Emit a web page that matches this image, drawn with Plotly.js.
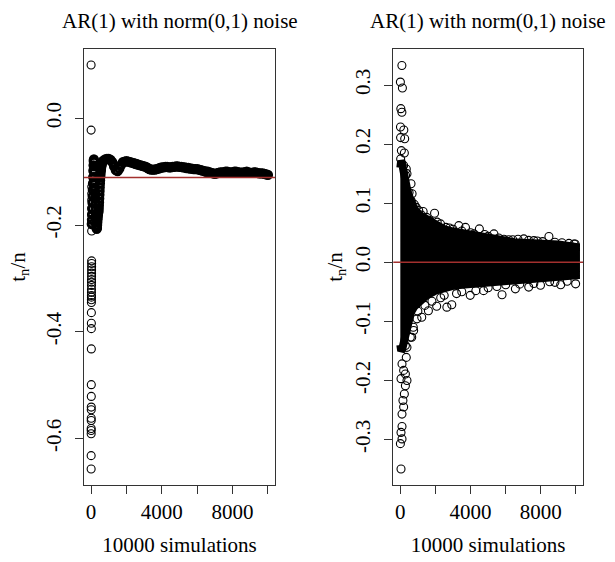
<!DOCTYPE html>
<html>
<head>
<meta charset="utf-8">
<script src="https://cdn.plot.ly/plotly-3.0.1.min.js"></script>
<style>html,body{margin:0;padding:0;background:#fff;}#chart{width:615px;height:562px;}</style>
</head>
<body>
<div id="chart"></div>
<script>
// ---------- Left panel: running mean t_n/n ----------
// isolated early values (first few dozen n)
const leftEarlyN = [1,2,3,4,5,6,7,8,9,10,11,12,13,14,15,16,17,18,19,20,21,22,23,24,25,26,27,28,29,30,31,32,33,34,35,36,37,38,39];
const leftEarlyV = [0.100,-0.022,-0.657,-0.632,-0.591,-0.585,-0.581,-0.566,-0.562,-0.546,-0.541,-0.521,-0.499,-0.432,-0.394,-0.384,-0.364,-0.345,-0.340,-0.335,-0.332,-0.326,-0.320,-0.313,-0.307,-0.302,-0.296,-0.290,-0.284,-0.278,-0.272,-0.267,-0.211,-0.194,-0.181,-0.168,-0.153,-0.141,-0.128];
// dense path afterwards
const leftPathN = [40,50,60,70,80,90,100,110,120,130,140,150,160,170,180,190,200,210,220,230,240,250,260,270,280,290,300,310,320,330,340,350,360,370,380,390,400,410,420,430,440,450,460,470,480,490,500,510,520,530,540,550,560,570,580,590,600,650,
 700,800,900,1000,1100,1200,1300,1400,1500,1600,1700,1800,1900,2000,2100,2200,2300,2400,2500,2600,2700,2800,2900,3000,3100,3200,3300,3400,3500,3600,3700,3800,3900,4000,4100,4200,4300,4400,4500,4600,4700,4800,4900,5000,5100,5200,5300,5400,5500,5600,5700,5800,5900,6000,6100,6200,6300,6400,6500,6600,6700,6800,6900,7000,7100,7200,7300,7400,7500,7600,7700,7800,7900,8000,8100,8200,8300,8400,8500,8600,8700,8800,8900,9000,9100,9200,9300,9400,9500,9600,9700,9800,9900,10000];
const leftPathV = [-0.198,-0.190,-0.180,-0.170,-0.158,-0.146,-0.134,-0.122,-0.110,-0.098,-0.088,-0.080,-0.077,-0.082,-0.090,-0.100,-0.110,-0.120,-0.130,-0.140,-0.150,-0.160,-0.170,-0.180,-0.188,-0.195,-0.200,-0.205,-0.207,-0.205,-0.200,-0.195,-0.190,-0.186,-0.182,-0.179,-0.177,-0.175,-0.172,-0.168,-0.163,-0.157,-0.150,-0.143,-0.136,-0.129,-0.122,-0.116,-0.110,-0.105,-0.100,-0.097,-0.094,-0.091,-0.089,-0.087,-0.085,-0.081,
 -0.079,-0.077,-0.076,-0.076,-0.078,-0.082,-0.090,-0.097,-0.099,-0.094,-0.087,-0.082,-0.081,-0.080,-0.081,-0.082,-0.083,-0.084,-0.085,-0.086,-0.087,-0.088,-0.089,-0.090,-0.091,-0.093,-0.095,-0.096,-0.096,-0.096,-0.095,-0.094,-0.093,-0.092,-0.092,-0.091,-0.091,-0.092,-0.092,-0.091,-0.091,-0.090,-0.090,-0.091,-0.091,-0.092,-0.092,-0.093,-0.093,-0.094,-0.094,-0.095,-0.095,-0.095,-0.096,-0.097,-0.098,-0.099,-0.100,-0.100,-0.101,-0.102,-0.103,-0.104,-0.103,-0.102,-0.101,-0.101,-0.101,-0.100,-0.100,-0.101,-0.101,-0.101,-0.100,-0.100,-0.101,-0.101,-0.102,-0.101,-0.101,-0.100,-0.101,-0.102,-0.102,-0.101,-0.101,-0.102,-0.103,-0.103,-0.103,-0.104,-0.105,-0.106];

// ---------- Right panel: t_n/n for each simulation ----------
// envelope (circle centres) of the dense black mass
const envN     = [1,50,100,180,250,320,400,500,600,800,1100,1500,2000,2500,3000,3500,4000,4500,5000,5500,6000,6500,7000,7500,8000,8500,9000,9500,10000];
const envUpper = [0.160,0.172,0.168,0.155,0.140,0.130,0.122,0.112,0.102,0.090,0.080,0.072,0.062,0.056,0.052,0.049,0.046,0.043,0.040,0.037,0.035,0.034,0.033,0.033,0.032,0.031,0.030,0.028,0.026];
const envLower = [-0.140,-0.150,-0.148,-0.138,-0.125,-0.115,-0.105,-0.095,-0.085,-0.075,-0.066,-0.056,-0.048,-0.043,-0.040,-0.038,-0.036,-0.035,-0.033,-0.032,-0.030,-0.029,-0.028,-0.027,-0.026,-0.025,-0.024,-0.023,-0.022];
// sparse points around the mass
const rightOutN = [90,5,120,30,90,10,200,15,250,60,230,20,190,340,380,300,610,670,620,1050,1300,1950,2290,3330,3710,4500,5330,6170,7030,7600,8460,9890,
 500,800,900,1200,1500,1700,2100,2600,2800,3000,3500,4000,4200,4800,5000,5600,5900,6400,6700,7300,7800,8100,8800,9200,9600,9950,
 950,760,570,290,340,97,190,290,40,290,230,150,190,97,97,40,97,5,40,380,380,650,740,1220,1600,2070,2650,2930,3980,4740,5790,6550,7310,7980,9130,9980,
 1000,1400,1800,2300,2500,3200,3500,4300,5000,5500,6000,6800,7600,8500,8800,9500];
const rightOutV = [0.333,0.305,0.295,0.260,0.254,0.229,0.224,0.211,0.209,0.189,0.185,0.175,0.164,0.158,0.150,0.147,0.133,0.116,0.104,0.0875,0.086,0.083,0.065,0.062,0.059,0.0565,0.048,0.038,0.0396,0.0367,0.0435,0.031,
 0.118,0.098,0.093,0.080,0.076,0.070,0.068,0.059,0.058,0.056,0.053,0.050,0.048,0.047,0.044,0.041,0.039,0.038,0.039,0.037,0.036,0.035,0.034,0.033,0.032,0.031,
 -0.0958,-0.1156,-0.127,-0.141,-0.161,-0.172,-0.183,-0.189,-0.197,-0.209,-0.223,-0.234,-0.245,-0.257,-0.278,-0.288,-0.299,-0.307,-0.350,-0.200,-0.144,-0.127,-0.110,-0.093,-0.082,-0.0745,-0.076,-0.072,-0.056,-0.048,-0.055,-0.045,-0.042,-0.039,-0.038,-0.0365,
 -0.083,-0.073,-0.066,-0.060,-0.056,-0.053,-0.050,-0.048,-0.043,-0.041,-0.038,-0.037,-0.036,-0.033,-0.034,-0.032];

// reference lines
const refLeft = -0.111;
const refRight = 0;

// tick labels
const xTickVals = [0,4000,8000];
const xTickText = ['0','4000','8000'];
const xMinorStep = 2000;
const yLeftVals = [-0.6,-0.4,-0.2,0.0];
const yLeftText = ['-0.6','-0.4','-0.2','0.0'];
const yRightVals = [-0.3,-0.2,-0.1,0.0,0.1,0.2,0.3];
const yRightText = ['-0.3','-0.2','-0.1','0.0','0.1','0.2','0.3'];

const titleText = 'AR(1) with norm(0,1) noise';
const xTitle = '10000 simulations';
const yTitle = 't<sub>n</sub>/n';

const FONT = 'Liberation Serif, Times New Roman, serif';
const circ = {symbol:'circle-open', size:8, color:'black', line:{width:1.1, color:'black'}};
const circDense = {symbol:'circle-open', size:7.5, color:'black', line:{width:2.8, color:'black'}};

const traces = [
  {x: leftPathN, y: leftPathV, type:'scatter', mode:'markers', marker:circDense, xaxis:'x', yaxis:'y', hoverinfo:'skip'},
  {x: leftEarlyN, y: leftEarlyV, type:'scatter', mode:'markers', marker:circ, xaxis:'x', yaxis:'y', hoverinfo:'skip'},
  {x: envN.concat(envN.slice().reverse()), y: envUpper.concat(envLower.slice().reverse()),
   type:'scatter', mode:'lines', fill:'toself', fillcolor:'black', line:{color:'black', width:8}, xaxis:'x2', yaxis:'y2', hoverinfo:'skip'},
  {x: rightOutN, y: rightOutV, type:'scatter', mode:'markers', marker:circ, xaxis:'x2', yaxis:'y2', hoverinfo:'skip'}
];

const axCommon = {
  showline:true, mirror:true, linecolor:'#333', linewidth:1,
  ticks:'outside', ticklen:8, tickwidth:1, tickcolor:'#333',
  showgrid:false, zeroline:false, fixedrange:true,
  tickfont:{family:FONT, size:21, color:'black'}
};
const xAx = (domain, anchor) => Object.assign({}, axCommon, {
  domain: domain, anchor: anchor, range:[-400,10400], tickmode:'array', tickvals:xTickVals, ticktext:xTickText,
  minor:{tickmode:'linear', tick0:0, dtick:xMinorStep, ticks:'outside', ticklen:8, tickwidth:1, tickcolor:'#333', showgrid:false},
  title:{text:xTitle, font:{family:FONT, size:21, color:'black'}, standoff:14}
});
const yAx = (range, vals, text, anchor, standoff) => Object.assign({}, axCommon, {
  anchor: anchor, range: range, tickmode:'array', tickvals: vals, ticktext: text, tickangle:-90,
  ticklabelstandoff: 6,
  title:{text:yTitle, font:{family:FONT, size:21, color:'black'}, standoff:standoff}
});

const layout = {
  width:615, height:562,
  margin:{l:84, r:32, t:49, b:77},
  paper_bgcolor:'white', plot_bgcolor:'white',
  showlegend:false, hovermode:false,
  font:{family:FONT, color:'black'},
  xaxis: xAx([0,0.3828],'y'),
  yaxis: yAx([-0.687,0.130], yLeftVals, yLeftText, 'x', 10),
  xaxis2: xAx([0.6198,1],'y2'),
  yaxis2: yAx([-0.377,0.361], yRightVals, yRightText, 'x2', 2),
  shapes:[
    {type:'line', xref:'x domain', yref:'y', x0:0, x1:1, y0:refLeft, y1:refLeft, line:{color:'#a3302e', width:1.5}},
    {type:'line', xref:'x2 domain', yref:'y2', x0:0, x1:1, y0:refRight, y1:refRight, line:{color:'#a3302e', width:1.5}}
  ],
  annotations:[
    {text:titleText, xref:'x domain', yref:'paper', x:0.5, y:1.064, xanchor:'center', yanchor:'middle', showarrow:false, font:{family:FONT, size:21, color:'black'}},
    {text:titleText, xref:'x2 domain', yref:'paper', x:0.5, y:1.064, xanchor:'center', yanchor:'middle', showarrow:false, font:{family:FONT, size:21, color:'black'}}
  ]
};

Plotly.newPlot('chart', traces, layout, {staticPlot:true, displayModeBar:false});
</script>
</body>
</html>
